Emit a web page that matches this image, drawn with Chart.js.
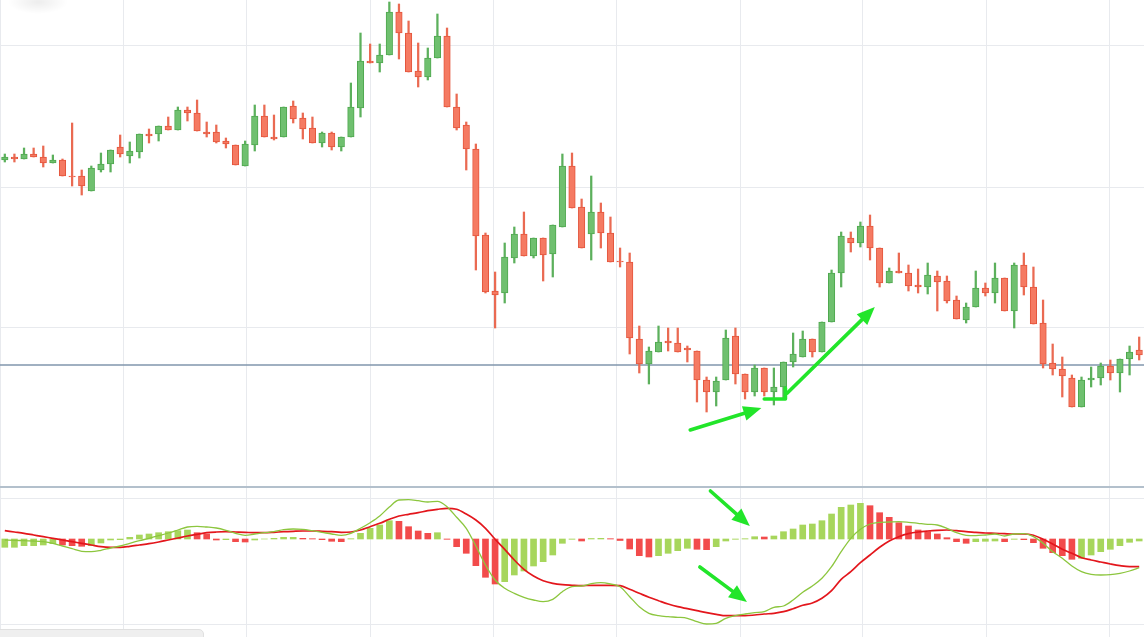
<!DOCTYPE html>
<html>
<head>
<meta charset="utf-8">
<title>Candles + MACD</title>
<script src="https://cdn.jsdelivr.net/npm/chart.js@4.4.1/dist/chart.umd.min.js"></script>
<style>
  html, body { margin: 0; padding: 0; background: #fff; overflow: hidden; }
  #wrap { position: relative; width: 1144px; height: 637px; }
  #pricebox { position: absolute; left: 0; top: 0; width: 1144px; height: 487px; }
  #macdbox { position: absolute; left: 0; top: 487px; width: 1144px; height: 150px; }
  #sep { position: absolute; left: 0; top: 486px; width: 1144px; height: 2px; background: #b3c0cc; }
  #smudge { position: absolute; left: 8px; top: -10px; width: 60px; height: 24px;
    background: radial-gradient(ellipse at center, rgba(0,0,0,0.07), rgba(0,0,0,0) 70%); }
  #scroll { position: absolute; left: -6px; top: 629px; width: 208px; height: 14px;
    background: #efefef; border: 1px solid #e0e0e0; border-radius: 5px; }
</style>
</head>
<body>
<div id="wrap">
  <div id="pricebox"><canvas id="price-chart"></canvas></div>
  <div id="macdbox"><canvas id="macd-chart"></canvas></div>
  <div id="sep"></div>
  <div id="smudge"></div>
  <div id="scroll"></div>
</div>
<script>
// candles (price units), one per bar
const opens = [440, 443, 441, 446, 443, 437, 440, 424, 424, 409, 430, 436, 453, 444, 448, 466, 466, 474, 470, 490,
  487, 468, 468, 459, 455, 434, 455, 484, 463, 463, 494, 482, 472, 457, 467, 453, 463, 492, 539, 537,
  545, 588, 567, 529, 523, 542, 564, 493, 475, 451, 365, 309, 307, 342, 366, 344, 362, 346, 373, 434,
  393, 366, 388, 367, 339, 338, 261, 236, 248, 259, 257, 252, 249, 220, 208, 220, 264, 226, 208, 232,
  208, 213, 238, 243, 261, 248, 278, 327, 362, 357, 374, 352, 317, 329, 327, 315, 313, 324, 319, 300,
  280, 293, 312, 307, 322, 289, 335, 313, 277, 237, 231, 222, 193, 220, 222, 234, 227, 241, 250];
const highs = [446, 446, 452, 452, 454, 445, 441, 477, 430, 434, 447, 450, 465, 458, 466, 471, 474, 483, 493, 493,
  500, 478, 475, 462, 455, 459, 495, 495, 485, 493, 499, 487, 483, 468, 468, 463, 517, 567, 556, 556,
  598, 596, 579, 557, 552, 586, 572, 506, 478, 456, 367, 328, 357, 373, 388, 362, 362, 375, 446, 447,
  401, 424, 397, 383, 352, 347, 274, 253, 274, 272, 272, 254, 249, 223, 223, 270, 272, 226, 235, 232,
  232, 238, 267, 269, 261, 278, 330, 368, 368, 378, 385, 352, 332, 347, 335, 331, 337, 329, 324, 304,
  297, 329, 317, 337, 322, 337, 347, 333, 300, 256, 243, 225, 223, 233, 237, 240, 241, 254, 263];
const lows = [438, 438, 441, 443, 433, 437, 424, 414, 405, 409, 428, 428, 443, 437, 442, 457, 459, 470, 470, 479,
  469, 463, 457, 452, 435, 434, 449, 463, 460, 463, 477, 461, 457, 453, 450, 449, 463, 483, 537, 528,
  545, 541, 528, 513, 520, 542, 493, 470, 430, 330, 307, 272, 297, 337, 344, 342, 319, 323, 373, 392,
  352, 340, 352, 338, 333, 246, 227, 216, 248, 249, 248, 238, 198, 188, 194, 220, 216, 201, 204, 204,
  195, 201, 233, 243, 243, 248, 278, 313, 348, 353, 340, 313, 317, 327, 309, 307, 306, 289, 297, 281,
  277, 293, 304, 297, 289, 272, 305, 276, 232, 225, 203, 193, 193, 213, 215, 220, 208, 225, 240];
const closes = [443, 441, 446, 443, 437, 440, 424, 423, 414, 432, 436, 450, 446, 449, 466, 464, 474, 470, 490, 487,
  469, 466, 458, 456, 435, 456, 484, 463, 461, 493, 481, 471, 457, 467, 453, 463, 493, 539, 537, 545,
  588, 567, 528, 523, 542, 564, 493, 472, 451, 364, 308, 305, 343, 366, 344, 362, 345, 375, 434, 392,
  352, 388, 367, 338, 338, 262, 236, 249, 258, 257, 248, 250, 220, 208, 219, 262, 226, 208, 232, 208,
  213, 238, 246, 261, 248, 278, 327, 364, 357, 374, 352, 317, 329, 327, 314, 313, 325, 318, 299, 281,
  293, 312, 307, 322, 289, 335, 313, 276, 236, 231, 224, 193, 220, 222, 234, 227, 241, 248, 245];

// MACD panel
const macdLine = [-1, -1.3, -1.7, -2, -2.7, -4.3, -7, -9.7, -12.3, -12.7, -11.3, -9, -7, -4.3, -1.7, 0.7, 3.3, 6, 9, 12,
  12.7, 12, 11, 8.7, 5.7, 3.7, 5, 6.3, 7.3, 9.3, 10, 9.7, 8.3, 6.7, 5, 3.7, 5.7, 10.7, 16.3, 23,
  32, 39, 39.3, 38.3, 37, 37.7, 32.3, 21.7, 10.7, -7, -26, -41, -49.3, -54.3, -58.3, -61, -62.7, -60.3, -52.7, -47.7,
  -47, -44.7, -43.7, -45, -47.7, -57.7, -67.7, -74.3, -76.7, -77.7, -78.3, -79.3, -82.7, -85, -84.3, -79.3, -76.7, -75, -73.7, -72.7,
  -68.3, -67, -61, -53.3, -47, -39.3, -27.7, -12.7, 0.7, 9.7, 15, 16.7, 17, 17.3, 16.7, 15.7, 14.7, 14, 10.7, 6.3,
  3.7, 3.3, 4, 5, 3, 5, 5.3, 2.3, -4.3, -12.7, -19.3, -27, -32.7, -35.3, -36, -35.7, -34.3, -32, -28.7];
const signalLine = [8.3, 7, 5.7, 4, 2.3, 0.7, -1, -2.7, -4.3, -6, -7.7, -8.3, -8.3, -7.3, -6, -4.7, -3, -1, 1, 3,
  4.7, 6.3, 7, 7.3, 7, 6.7, 6.3, 6.3, 6.7, 7.3, 7.7, 8, 8, 7.7, 7.3, 6.7, 7, 9, 12.3, 15.7,
  19.7, 23, 24.7, 26.3, 28.3, 29.7, 30.7, 29.7, 25, 19, 10.7, -0.3, -10.3, -21, -30.3, -37, -41.7, -44.3, -45.7, -46.3,
  -46.7, -46.3, -46.3, -46.3, -46.7, -50.3, -54.3, -58.3, -61.7, -65, -67.7, -69.7, -71.7, -73.7, -75.3, -76.7, -76.7, -76.7, -76, -75,
  -74.3, -72.7, -69.7, -66.3, -64, -59.3, -51.7, -40.3, -32.7, -23.7, -16, -8.3, -2, 2.3, 5.3, 7, 8, 8.7, 9, 8.3,
  7.3, 6.7, 6, 5.7, 5.3, 5, 5, 3.7, -0.3, -5, -10.3, -14.3, -18.7, -21, -23, -25, -26.7, -27.7, -27.7];
const histogram = [-8.3, -8.3, -6.7, -6.7, -6, -4.7, -6, -6.7, -7.3, -6.7, -4, -1, -0.7, 1.7, 4, 5, 6.3, 7.3, 8.3, 9,
  6.3, 5, -1, -0.7, -2.7, -3, -1, 0, 0.7, 1.7, 1.7, 0.7, 0.3, -0.7, -2.3, -2.7, 0.3, 5.7, 10.7, 14,
  18.3, 17.7, 12.3, 8, 5.7, 6.3, -0.3, -7.7, -14.3, -26.7, -38.3, -45, -42.7, -36, -32, -27, -22.7, -16, -4.3, -0.3,
  -2, 0.5, 0.7, 0.3, -1.5, -10, -16.7, -18, -16.7, -14.3, -11.7, -9.3, -10.3, -10.7, -7.7, -2, -0.3, 0.3, 2.3, 2,
  3, 7.3, 10, 14, 15, 18.3, 25, 31.7, 34, 35.7, 33.3, 26.3, 21.7, 16.3, 13, 9, 7.3, 5, 1.3, -2.7,
  -4.3, -2.7, -2.3, -2, -2.7, -0.3, -0.7, -3.7, -9.3, -13.7, -16.7, -20.3, -19.3, -16, -12.7, -10.3, -6.7, -3.3, -2];

const lastPrice = 235;

// grid positions (in axis units)
const gridX = [0.1, 12.8, 25.64, 38.49, 51.29, 64.08, 76.98, 89.77, 102.57, 115.36];
const gridY = [273, 413, 554];
const gridM = [40, -85];

// hand-drawn markup, in axis units
const priceArrows = [[[71.8, 170], [79.2, 192]], [[81.9, 207], [91.0, 293]]];
const pricePaths = [[[79.5, 201], [81.7, 201], [81.7, 212]]];
const macdArrows = [[[73.9, 48], [78.0, 13]], [[72.8, -28], [77.7, -63]]];

const N = opens.length;
const xs = opens.map((o, i) => i + 0.5);
const isUp = closes.map((c, i) => c >= opens[i]);
const histUp = histogram.map((h, i) => i === 0 || h >= histogram[i - 1]);

function xAxis() {
    return {
        type: 'linear', min: 0, max: N,
        offset: false,
        ticks: { display: false },
        border: { display: false },
        grid: { color: '#e8eaee', drawTicks: false, offset: false },
        afterBuildTicks: a => { a.ticks = gridX.map(v => ({ value: v })); }
    };
}

function yAxis(min, max, lines) {
    return {
        min: min, max: max,
        ticks: { display: false },
        border: { display: false },
        grid: { color: '#e8eaee', drawTicks: false },
        afterBuildTicks: a => { a.ticks = lines.map(v => ({ value: v })); }
    };
}

function markup(arrows, paths) {
    return {
        id: 'markup',
        afterDatasetsDraw(chart) {
            const { ctx, scales: { x, y } } = chart;
            const px = p => [x.getPixelForValue(p[0]), y.getPixelForValue(p[1])];
            ctx.save();
            ctx.strokeStyle = '#22e52a';
            ctx.fillStyle = '#22e52a';
            ctx.lineWidth = 3.6;
            ctx.lineCap = 'round';
            ctx.lineJoin = 'round';
            paths.forEach(path => {
                ctx.beginPath();
                path.map(px).forEach((p, i) => i ? ctx.lineTo(p[0], p[1]) : ctx.moveTo(p[0], p[1]));
                ctx.stroke();
            });
            arrows.forEach(a => {
                const [x0, y0] = px(a[0]);
                const [x1, y1] = px(a[1]);
                const len = Math.hypot(x1 - x0, y1 - y0);
                const ux = (x1 - x0) / len, uy = (y1 - y0) / len;
                const head = 18, half = 7.5;
                ctx.beginPath();
                ctx.moveTo(x0, y0);
                ctx.lineTo(x1 - ux * head * 0.8, y1 - uy * head * 0.8);
                ctx.stroke();
                ctx.beginPath();
                ctx.moveTo(x1, y1);
                ctx.lineTo(x1 - ux * head - uy * half, y1 - uy * head + ux * half);
                ctx.lineTo(x1 - ux * head + uy * half, y1 - uy * head - ux * half);
                ctx.closePath();
                ctx.fill();
            });
            ctx.restore();
        }
    };
}

// Price chart
const priceCanvas = document.getElementById('price-chart');

let priceChart = new Chart(priceCanvas, {
    type: 'bar',
    data: {
        datasets: [{
            label: 'body',
            data: xs.map((x, i) => ({ x: x, y: [opens[i], closes[i]] })),
            backgroundColor: isUp.map(u => u ? '#6fc06f' : '#f57a62'),
            borderColor: isUp.map(u => u ? '#4fa84f' : '#e4563d'),
            borderWidth: 1,
            borderSkipped: false,
            barThickness: 6.5,
            grouped: false,
            order: 1
        }, {
            label: 'wick',
            data: xs.map((x, i) => ({ x: x, y: [lows[i], highs[i]] })),
            backgroundColor: isUp.map(u => u ? '#5cb05c' : '#ea6a52'),
            borderWidth: 0,
            barThickness: 1.6,
            grouped: false,
            order: 2
        }, {
            type: 'line',
            label: 'last',
            data: [{ x: 0, y: lastPrice }, { x: N, y: lastPrice }],
            borderColor: '#8196ad',
            borderWidth: 1.4,
            pointRadius: 0,
            order: 3
        }]
    },
    options: {
        responsive: true,
        maintainAspectRatio: false,
        animation: false,
        layout: { padding: 0 },
        scales: { x: xAxis(), y: yAxis(113, 600, gridY) },
        plugins: { legend: { display: false }, tooltip: { enabled: false } }
    },
    plugins: [markup(priceArrows, pricePaths)]
});

// MACD chart
const macdCanvas = document.getElementById('macd-chart');

let macdChart = new Chart(macdCanvas, {
    type: 'bar',
    data: {
        datasets: [{
            type: 'line',
            label: 'MACD',
            data: xs.map((x, i) => ({ x: x, y: macdLine[i] })),
            borderColor: '#8cc63e',
            borderWidth: 1.3,
            pointRadius: 0,
            cubicInterpolationMode: 'monotone',
            order: 1
        }, {
            type: 'line',
            label: 'Signal',
            data: xs.map((x, i) => ({ x: x, y: signalLine[i] })),
            borderColor: '#e3161c',
            borderWidth: 1.7,
            pointRadius: 0,
            cubicInterpolationMode: 'monotone',
            order: 2
        }, {
            label: 'Histogram',
            data: xs.map((x, i) => ({ x: x, y: histogram[i] })),
            backgroundColor: histUp.map(u => u ? '#a7d65c' : '#f24b4b'),
            borderWidth: 0,
            barThickness: 6,
            grouped: false,
            order: 3
        }]
    },
    options: {
        responsive: true,
        maintainAspectRatio: false,
        animation: false,
        layout: { padding: 0 },
        scales: { x: xAxis(), y: yAxis(-98, 52, gridM) },
        plugins: { legend: { display: false }, tooltip: { enabled: false } }
    },
    plugins: [markup(macdArrows, [])]
});
</script>
</body>
</html>
